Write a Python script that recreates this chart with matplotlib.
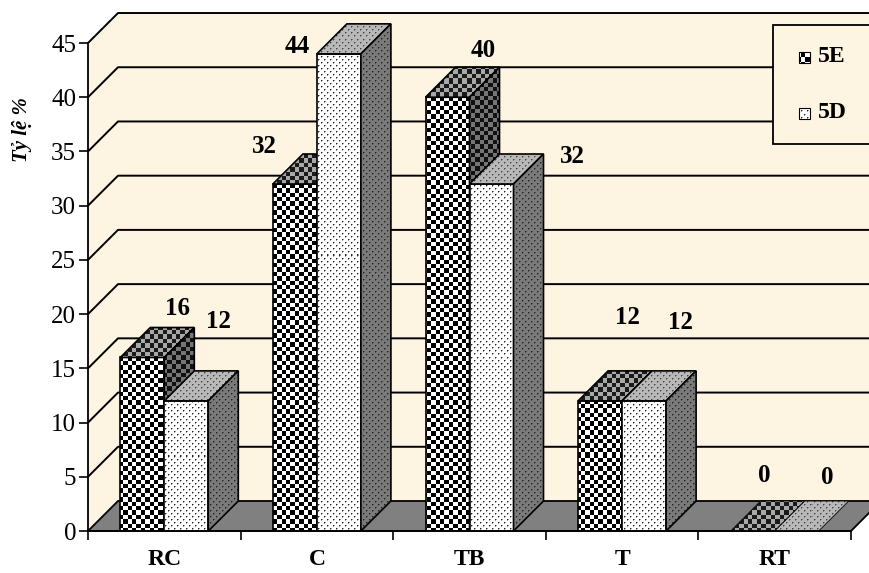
import matplotlib.pyplot as plt
import numpy as np
from matplotlib.patches import Polygon, Rectangle
from matplotlib.colors import to_rgb

# 数据
categories = ['RC', 'C', 'TB', 'T', 'RT']
series_names = ['5E', '5D']
values_5e = [16, 32, 40, 12, 0]
values_5d = [12, 44, 32, 12, 0]
y_ticks = [0, 5, 10, 15, 20, 25, 30, 35, 40, 45]

# 数值标签相对柱顶（后沿中点）的偏移，单位像素
label_offsets_5e = [(5, 19), (-60, 7), (6, 17), (-3, 53), (-18, 26)]
label_offsets_5d = [(2, 49), (-72, -23), (51, -3), (6, 48), (1, 23)]

# 版面常量（像素）
W, H = 869, 573
x0_px, cat_px = 88, 152.6     # x=0 位置，每类宽度
y0_px, unit_px = 531, 10.844  # y=0 位置（自上而下），每单位高度
depth_px = 30
bar_w = 44 / cat_px

wall_color = '#FDF4E2'
floor_color = '#808080'

plt.rcParams['font.family'] = ['Liberation Serif', 'DejaVu Serif']

fig = plt.figure(figsize=(W / 100, H / 100), dpi=100)
ax = fig.add_axes([0, 0, 1, 1])
ax.set_autoscale_on(False)
ax.set_xlim(-x0_px / cat_px, (W - x0_px) / cat_px)
ax.set_ylim(-(H - y0_px) / unit_px, y0_px / unit_px)
ax.patch.set_visible(False)

dx = depth_px / cat_px
dy = depth_px / unit_px
n = len(categories)
ymax = y_ticks[-1]


def px2data(xp, yp):
    # 像素（自上而下）转数据坐标
    return ax.transData.inverted().transform((xp, H - yp))


def add_texture(patch, kind, c1, c2, z):
    # 用图像填充纹理，并裁剪到多边形
    verts = patch.get_verts()
    xa, ya = np.floor(verts.min(0))
    xb, yb = np.ceil(verts.max(0))
    if xb - xa < 1 or yb - ya < 1:
        return
    X = np.arange(xa, xb) + 0.5
    Y = H - (np.arange(yb, ya, -1) - 0.5)
    u, v = np.meshgrid(X, Y)
    rgb1 = np.array(to_rgb(c1))
    rgb2 = np.array(to_rgb(c2))
    if kind == 'checker':
        s = 4.4
        mask = ((np.floor(u / s) + np.floor(v / s)) % 2) == 0
        arr = np.where(mask[..., None], rgb1, rgb2)
    else:
        m1 = ((u % 6) < 1) & ((v % 6) < 1)
        m2 = (((u + 3) % 6) < 1) & (((v + 3) % 6) < 1)
        mask = m1 | m2
        arr = np.where(mask[..., None], rgb1, rgb2)
        halo = (np.roll(mask, 1, axis=1) | np.roll(mask, 1, axis=0)) & ~mask
        arr[halo] = 0.55 * rgb2 + 0.45 * rgb1
    d0 = ax.transData.inverted().transform((xa, ya))
    d1 = ax.transData.inverted().transform((xb, yb))
    im = ax.imshow(arr, extent=[d0[0], d1[0], d0[1], d1[1]], origin='upper',
                   interpolation='nearest', aspect='auto', zorder=z)
    im.set_clip_path(patch)


# 墙面
x_far = n + dx
ax.add_patch(Polygon([(dx, dy), (x_far, dy), (x_far, ymax + dy), (dx, ymax + dy)],
                     closed=True, fc=wall_color, ec='none', zorder=1))
ax.add_patch(Polygon([(0, 0), (dx, dy), (dx, ymax + dy), (0, ymax)],
                     closed=True, fc=wall_color, ec='none', zorder=1))
for v in y_ticks[1:]:
    ax.plot([0, dx, x_far], [v, v + dy, v + dy], color='k', lw=1.4, zorder=2,
            solid_capstyle='butt')

# 地面
ax.add_patch(Polygon([(0, 0), (n, 0), (n + dx, dy), (dx, dy)], closed=True,
                     fc=floor_color, ec='k', lw=1.3, zorder=3))

# 柱子
styles = [
    dict(kind='checker', front=('#000000', '#ffffff'), top=('#1a1a1a', '#a8a8a8'),
         side=('#111111', '#767676')),
    dict(kind='dots', front=('#222222', '#ffffff'), top=('#444444', '#b8b8b8'),
         side=('#222222', '#7a7a7a')),
]
x_idx = np.arange(n)
all_values = [values_5e, values_5d]
all_offsets = [label_offsets_5e, label_offsets_5d]
for s, (vals, st) in enumerate(zip(all_values, styles)):
    xs = x_idx + 0.5 + (s - 0.5) * bar_w
    bars = ax.bar(xs, vals, width=bar_w, color='none', edgecolor='k', lw=1.2)
    for i, rect in enumerate(bars):
        z = 10 + i * 10 + s * 5
        h = vals[i]
        xl = xs[i] - bar_w / 2
        rect.set_zorder(z + 0.5)
        if h > 0:
            add_texture(rect, st['kind'], *st['front'], z)
        top = Polygon([(xl, h), (xl + bar_w, h), (xl + bar_w + dx, h + dy), (xl + dx, h + dy)],
                      closed=True, fc='none', ec='k', lw=1.2 if h > 0 else 0.6, zorder=z + 1.5)
        ax.add_patch(top)
        add_texture(top, st['kind'], *st['top'], z + 1)
        if h > 0:
            side = Polygon([(xl + bar_w, 0), (xl + bar_w + dx, dy), (xl + bar_w + dx, h + dy),
                            (xl + bar_w, h)], closed=True, fc='none', ec='k', lw=1.2, zorder=z + 2.5)
            ax.add_patch(side)
            add_texture(side, st['kind'], *st['side'], z + 2)
        ax.annotate(str(h), xy=(xl + bar_w / 2 + dx, h + dy), xytext=all_offsets[s][i],
                    textcoords='offset pixels', ha='center', va='center',
                    fontsize=18, fontweight='bold', zorder=100)

# 坐标轴
for side_name in ['top', 'right']:
    ax.spines[side_name].set_visible(False)
ax.spines['left'].set_position(('data', 0))
ax.spines['bottom'].set_position(('data', 0))
ax.spines['left'].set_bounds(0, ymax)
ax.spines['bottom'].set_bounds(0, n)
for side_name in ['left', 'bottom']:
    ax.spines[side_name].set_linewidth(1.3)
    ax.spines[side_name].set_zorder(90)
ax.set_yticks(y_ticks)
ax.set_yticklabels([str(t) for t in y_ticks])
ax.tick_params(axis='y', direction='out', length=6.5, width=1.2, labelsize=18, pad=2)
ax.set_xticks(np.arange(n + 1))
ax.set_xticklabels([])
ax.set_xticks(x_idx + 0.5, minor=True)
ax.set_xticklabels(categories, minor=True, fontsize=17, fontweight='bold')
ax.tick_params(axis='x', which='major', direction='out', length=6.5, width=1.2)
ax.tick_params(axis='x', which='minor', length=0, pad=13)

fig.text(22 / W, 1 - 130 / H, 'Tỷ lệ %', rotation=90, ha='center', va='center',
         fontsize=15, fontweight='bold', fontstyle='italic')

# 图例（手工绘制，框右侧超出画面）
lx0, ly0 = px2data(773, 144)
lx1, ly1 = px2data(890, 25)
ax.add_patch(Rectangle((lx0, ly0), lx1 - lx0, ly1 - ly0, fc=wall_color, ec='k',
                       lw=1.3, zorder=200))
for k, name in enumerate(series_names):
    cy = 57 + k * 56
    a = px2data(799, cy + 6)
    b = px2data(810, cy - 5)
    sq = Rectangle(a, b[0] - a[0], b[1] - a[1], fc='none', ec='k', lw=0.8, zorder=202)
    ax.add_patch(sq)
    st = styles[k]
    add_texture(sq, st['kind'], *st['front'], 201)
    tx, ty = px2data(818, cy)
    ax.text(tx, ty, name, ha='left', va='center', fontsize=17, fontweight='bold', zorder=203)

fig.savefig('out.png', dpi=100)
